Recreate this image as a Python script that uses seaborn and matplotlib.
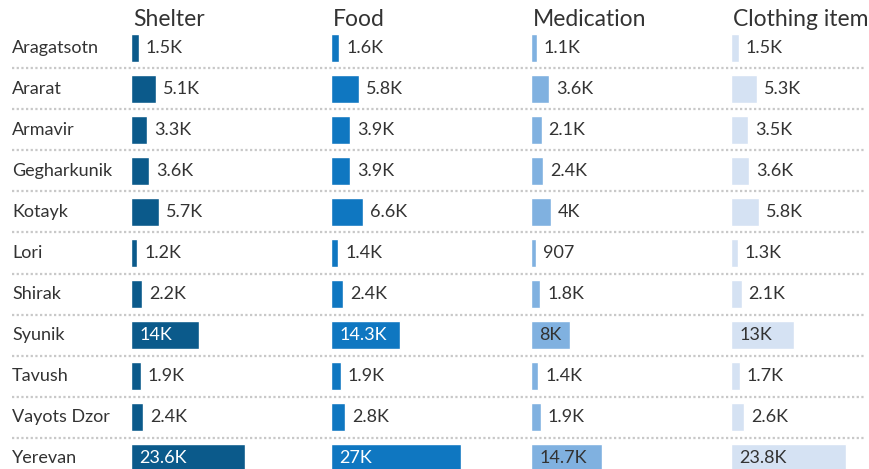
import matplotlib
matplotlib.use("Agg")
import matplotlib.pyplot as plt
import seaborn as sns
import pandas as pd
from matplotlib.lines import Line2D

regions = ["Aragatsotn", "Ararat", "Armavir", "Gegharkunik", "Kotayk", "Lori",
           "Shirak", "Syunik", "Tavush", "Vayots Dzor", "Yerevan"]
categories = ["Shelter", "Food", "Medication", "Clothing item"]
shelter = [1500, 5100, 3300, 3600, 5700, 1200, 2200, 14000, 1900, 2400, 23600]
food = [1600, 5800, 3900, 3900, 6600, 1400, 2400, 14300, 1900, 2800, 27000]
medication = [1100, 3600, 2100, 2400, 4000, 907, 1800, 8000, 1400, 1900, 14700]
clothing = [1500, 5300, 3500, 3600, 5800, 1300, 2100, 13000, 1700, 2600, 23800]
series = [shelter, food, medication, clothing]
colors = ["#0b5a8b", "#0f77c1", "#80b1e0", "#d5e2f3"]
inside_text = ["white", "white", "#333333", "#333333"]

sns.set_theme(style="white")
plt.rcParams["font.family"] = ["Lato", "DejaVu Sans"]

W, H = 870, 469
fig = plt.figure(figsize=(W / 100, H / 100), dpi=100)

px_per_unit = 4.8 / 1000.0  # pixels per value unit
row_h = 41.0
top_px = 48 - row_h / 2
y_top = -0.5
y_bot = -0.5 + (H - top_px) / row_h


def fig_rect(x0, width):
    return [x0 / W, 0, width / W, (H - top_px) / H]


# background axis for separators and region labels
bg = fig.add_axes([0, 0, 1, (H - top_px) / H])
bg.set_xlim(0, W)
bg.set_ylim(y_bot, y_top)
bg.axis("off")
for i in range(len(regions) - 1):
    bg.add_line(Line2D([12, 866], [i + 0.5, i + 0.5], color="#c8c8c8", lw=1.6,
                       linestyle=(0, (1, 1.1)), solid_capstyle="butt"))
for i, r in enumerate(regions):
    bg.text(12, i, r, ha="left", va="center", fontsize=13, color="#333333")

text_color = "#333333"
starts = [131.5, 331.5, 531.5, 731.5]
for k, (cat, vals) in enumerate(zip(categories, series)):
    width_px = 200 if k < 3 else W - starts[k]
    ax = fig.add_axes(fig_rect(starts[k], width_px))
    df = pd.DataFrame({"region": regions, "value": vals})
    sns.barplot(data=df, x="value", y="region", order=regions, orient="h",
                color=colors[k], saturation=1, width=0.675, ax=ax)
    ax.set_xlim(0, width_px / px_per_unit)
    ax.set_ylim(y_bot, y_top)
    ax.axis("off")
    for i, v in enumerate(vals):
        if v >= 1000:
            s = f"{v/1000:.1f}".rstrip("0").rstrip(".") + "K"
        else:
            s = str(v)
        bar_px = v * px_per_unit
        if bar_px > 35:
            ax.annotate(s, xy=(0, i), xytext=(8, 0), textcoords="offset pixels",
                        ha="left", va="center", fontsize=13, color=inside_text[k])
        else:
            ax.annotate(s, xy=(v, i), xytext=(7, 0), textcoords="offset pixels",
                        ha="left", va="center", fontsize=13, color=text_color)
    fig.text((starts[k] + 1.5) / W, 1 - 19.5 / H, cat, ha="left", va="center",
             fontsize=16.5, color=text_color)

fig.savefig("out.png", dpi=100)
